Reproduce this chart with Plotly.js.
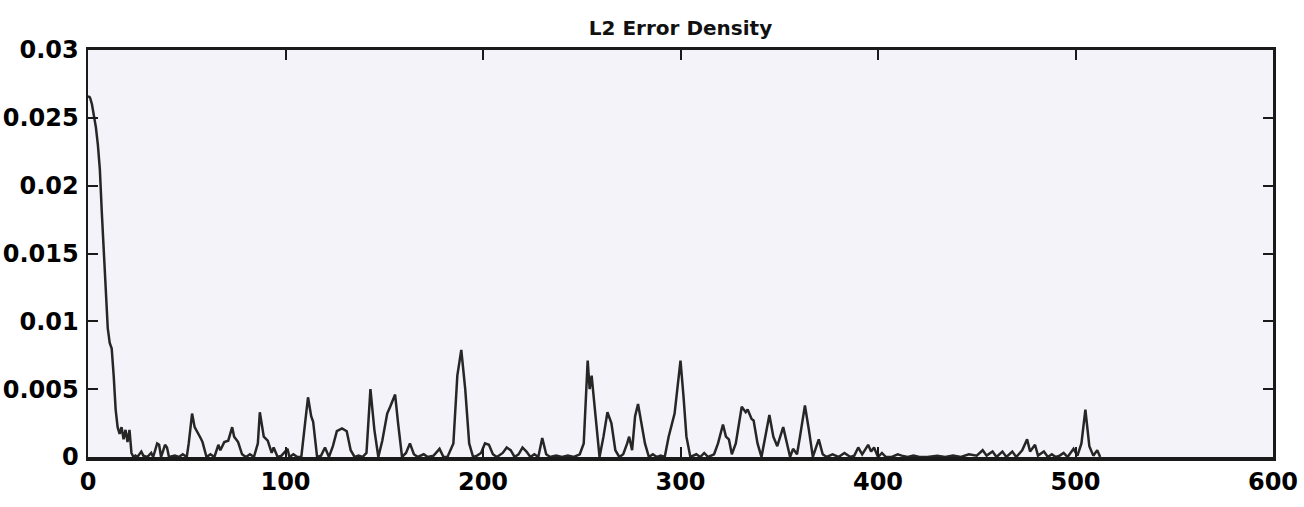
<!DOCTYPE html>
<html>
<head>
<meta charset="utf-8">
<script src="https://cdn.plot.ly/plotly-3.0.1.min.js"></script>
<style>html,body{margin:0;padding:0;background:#fff;}#chart{width:1304px;height:507px;}</style>
</head>
<body>
<div id="chart"></div>
<script>
const chartTitle = 'L2 Error Density';
const xTickVals = [0, 100, 200, 300, 400, 500, 600];
const yTickVals = [0, 0.005, 0.01, 0.015, 0.02, 0.025, 0.03];
const yTickText = ['0', '0.005', '0.01', '0.015', '0.02', '0.025', '0.03'];

const errX = [0,1,2,3,4,5,6,7,8,9,10,11,12,13,14,15,16,17,18,19,20,21,22,23,24,
25,27,28,30,32,33,35,36,37,39,40,41,44,46,48,50,51,52.7,54,55.7,57,58,60,62,64,66,67,69,71,73,74,76,78,80,82,84,86,87,89,91,93,94,96,98,101,102,104,106,108,110,111.4,113,114,116,118,120,122,124,126,128.6,131,133,135,137,139,141,143,145,147,149,150,151.5,153,155.5,157,159,161,163,165,167,170,172,175,178,180,182,185,187,189,191,193,195,197,199,201,203,205,207,210,212,214,216,218,220,222,224,226,228,230,232,234,237,240,243,246,249,251,253,254,255,257,259,261,263,265,267,269,271,273,274,275.5,277,278.5,280.5,282,284,286,288,290,292,294,297,300,301.5,303,305,308,310,312,314,317,319,321.5,323,324.5,326,328,331,333,334,336,337,339,341,343,345,347,349,352,354,355.5,357,359,360.5,363,365,367,370,372,374,377,380,383,386,388,390,392,395,396.5,398,400,402,404,407,410,412,415,418,421,425,430,434,438,442,446,450,453,455,458,460,463,465,468,470,473,475.5,477,479.5,481,484,486,488,490,492,494,496,499,501,503,505,507,509,511,512.5];

const errY = [0.0266,0.0265,0.0260,0.0252,0.0243,0.0230,0.0212,0.0180,0.0150,0.0120,0.0095,0.0084,0.0080,0.0060,0.0035,0.0022,0.0017,0.0022,0.0013,0.0020,0.0011,0.0020,0.0003,0.0000,0.0001,
0.0000,0.0004,0.0001,0.0000,0.0003,0.0000,0.0010,0.0009,0.0000,0.0009,0.0007,0.0000,0.0001,0.0000,0.0002,0.0000,0.0010,0.0032,0.0022,0.0018,0.0014,0.0011,0.0000,0.0002,0.0000,0.0009,0.0005,0.0011,0.0012,0.0022,0.0015,0.0011,0.0002,0.0000,0.0002,0.0000,0.0010,0.0033,0.0015,0.0012,0.0003,0.0007,0.0000,0.0001,0.0006,0.0000,0.0002,0.0000,0.0000,0.0026,0.0044,0.0030,0.0026,0.0000,0.0001,0.0007,0.0000,0.0008,0.0019,0.0021,0.0019,0.0005,0.0000,0.0001,0.0000,0.0003,0.0050,0.0020,0.0000,0.0012,0.0020,0.0032,0.0037,0.0046,0.0025,0.0000,0.0003,0.0010,0.0002,0.0000,0.0002,0.0000,0.0001,0.0006,0.0000,0.0000,0.0010,0.0060,0.0079,0.0050,0.0010,0.0000,0.0001,0.0003,0.0010,0.0009,0.0002,0.0000,0.0003,0.0007,0.0005,0.0000,0.0002,0.0007,0.0004,0.0000,0.0002,0.0000,0.0014,0.0002,0.0000,0.0001,0.0000,0.0001,0.0000,0.0002,0.0010,0.0071,0.0050,0.0060,0.0030,0.0000,0.0015,0.0033,0.0025,0.0005,0.0000,0.0002,0.0010,0.0015,0.0005,0.0030,0.0039,0.0024,0.0010,0.0000,0.0002,0.0000,0.0001,0.0000,0.0015,0.0032,0.0071,0.0045,0.0015,0.0000,0.0002,0.0000,0.0003,0.0000,0.0002,0.0010,0.0024,0.0015,0.0013,0.0002,0.0010,0.0037,0.0033,0.0035,0.0028,0.0027,0.0010,0.0000,0.0015,0.0031,0.0015,0.0008,0.0022,0.0010,0.0000,0.0006,0.0002,0.0015,0.0038,0.0020,0.0000,0.0013,0.0002,0.0000,0.0002,0.0000,0.0003,0.0000,0.0001,0.0007,0.0002,0.0009,0.0004,0.0007,0.0000,0.0003,0.0000,0.0000,0.0002,0.0001,0.0000,0.0001,0.0000,0.0000,0.0001,0.0000,0.0001,0.0000,0.0002,0.0001,0.0005,0.0001,0.0004,0.0000,0.0004,0.0000,0.0004,0.0000,0.0005,0.0013,0.0004,0.0009,0.0001,0.0004,0.0000,0.0002,0.0000,0.0001,0.0003,0.0000,0.0006,0.0001,0.0010,0.0035,0.0008,0.0001,0.0005,0.0000];

const fontFam = '"DejaVu Sans", Arial, Helvetica, sans-serif';

const trace = {
  x: errX, y: errY, type: 'scatter', mode: 'lines',
  line: {color: '#262626', width: 2.5}, hoverinfo: 'x+y'
};

const axisCommon = {
  showline: true, linecolor: '#1a1a1a', linewidth: 2.5, mirror: 'ticks',
  ticks: 'inside', ticklen: 10, tickwidth: 2, tickcolor: '#1a1a1a',
  showgrid: false, zeroline: false,
  tickfont: {family: fontFam, size: 24, color: '#000', weight: 'bold'}
};

const layout = {
  width: 1304, height: 507,
  margin: {l: 88, r: 31, t: 50, b: 50},
  paper_bgcolor: '#ffffff',
  plot_bgcolor: '#f4f3f9',
  showlegend: false,
  title: {text: chartTitle, x: 0.5, xref: 'paper', y: 0.945, yref: 'container', yanchor: 'middle',
          font: {family: fontFam, size: 20, color: '#111', weight: 'bold'}},
  xaxis: Object.assign({}, axisCommon, {range: [0, 600], tickvals: xTickVals, ticklabelstandoff: 1, linewidth: 3.5}),
  yaxis: Object.assign({}, axisCommon, {range: [0, 0.03], tickvals: yTickVals, ticktext: yTickText, ticklabelstandoff: 2})
};

Plotly.newPlot('chart', [trace], layout, {displayModeBar: false, staticPlot: true});
</script>
</body>
</html>
